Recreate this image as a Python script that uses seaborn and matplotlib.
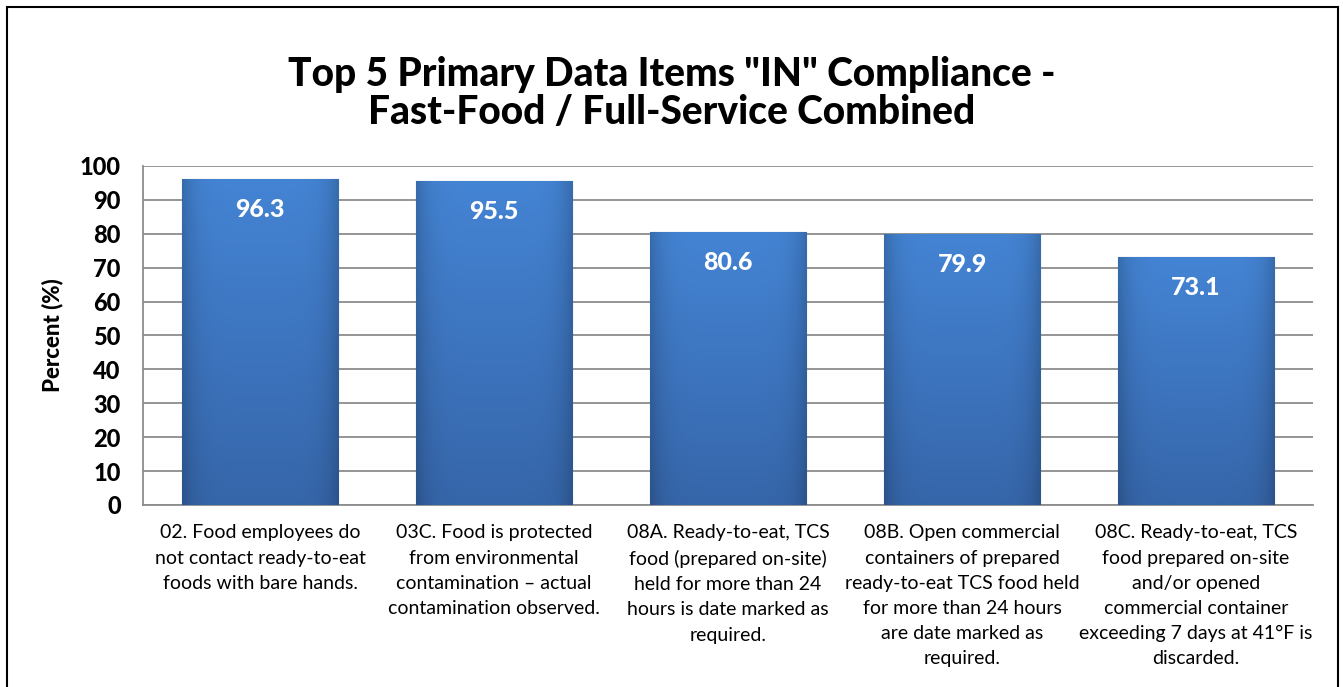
import numpy as np
import pandas as pd
import matplotlib
matplotlib.use('Agg')
import matplotlib.pyplot as plt
import seaborn as sns
from matplotlib.patches import Rectangle

# Dados
items = [
    '02. Food employees do\nnot contact ready-to-eat\nfoods with bare hands.',
    '03C. Food is protected\nfrom environmental\ncontamination \u2013 actual\ncontamination observed.',
    '08A. Ready-to-eat, TCS\nfood (prepared on-site)\nheld for more than 24\nhours is date marked as\nrequired.',
    '08B. Open commercial\ncontainers of prepared\nready-to-eat TCS food held\nfor more than 24 hours\nare date marked as\nrequired.',
    '08C. Ready-to-eat, TCS\nfood prepared on-site\nand/or opened\ncommercial container\nexceeding 7 days at 41\u00b0F is\ndiscarded.',
]
percent = [96.3, 95.5, 80.6, 79.9, 73.1]
yticks = list(range(0, 101, 10))

df = pd.DataFrame({'item': items, 'percent': percent})

sns.set_style('white')
plt.rcParams['font.family'] = ['Lato', 'DejaVu Sans']
plt.rcParams['text.color'] = 'black'
plt.rcParams['axes.labelcolor'] = 'black'
plt.rcParams['xtick.labelcolor'] = 'black'
plt.rcParams['ytick.labelcolor'] = 'black'

fig = plt.figure(figsize=(13.43, 6.87), dpi=100)
ax = fig.add_axes([0.1065, 0.265, 0.8712, 0.4934])

sns.barplot(data=df, x='item', y='percent', color='#3d76c2', width=0.67,
            saturation=1, ax=ax, zorder=2)

# Gradiente nas barras
grad_v = np.linspace(0, 1, 100)[:, None]
grad_h = np.abs(np.linspace(-1, 1, 60))[None, :]
top = np.array([0x44, 0x84, 0xd4]) / 255
bot = np.array([0x36, 0x66, 0xaa]) / 255
img = top * (1 - grad_v[..., None]) + bot * grad_v[..., None]
shade = 1 - 0.18 * grad_h[..., None] ** 6
img = np.clip(img * shade, 0, 1)
for p in ax.patches:
    x0, y0 = p.get_x(), p.get_y()
    w, h = p.get_width(), p.get_height()
    im = ax.imshow(img, extent=[x0, x0 + w, y0, y0 + h], aspect='auto',
                   origin='upper', zorder=3)
    im.set_clip_path(p)
    p.set_edgecolor('#2c5a99')
    p.set_linewidth(0.8)

# Rótulos de valor
for i, v in enumerate(percent):
    ax.text(i, v - 9, f'{v:.1f}', ha='center', va='center', color='white',
            fontsize=18, fontweight='black', zorder=5)

ax.set_xlim(-0.5, 4.5)
ax.set_ylim(0, 100)
ax.set_yticks(yticks)
ax.set_yticklabels([str(t) for t in yticks], fontsize=17, fontweight='black')
ax.yaxis.grid(True, color='#8c8c8c', linewidth=1.3, zorder=0)
ax.set_axisbelow(True)

ax.set_xticks(range(len(items)))
ax.set_xticklabels(items, fontsize=14, linespacing=1.58)
ax.set_xticks(np.arange(-0.5, 5, 1), minor=True)
ax.tick_params(axis='x', which='major', length=0, pad=14)
ax.tick_params(axis='x', which='minor', length=7, color='#8c8c8c', width=1.3)
ax.tick_params(axis='y', length=6, color='#8c8c8c', width=1.3, pad=10)

for s in ['top', 'right']:
    ax.spines[s].set_visible(False)
for s in ['left', 'bottom']:
    ax.spines[s].set_color('#8c8c8c')
    ax.spines[s].set_linewidth(1.3)

ax.set_xlabel('')
ax.set_ylabel('Percent (%)', fontsize=16, fontweight='black', labelpad=12)

fig.text(0.5, 0.864, 'Top 5 Primary Data Items "IN" Compliance -\nFast-Food / Full-Service Combined',
         ha='center', va='center', fontsize=28, fontweight='black', linespacing=1.02)

# Borda
fig.patches.append(Rectangle((0.005, -0.01), 0.991, 1.0, transform=fig.transFigure,
                             fill=False, edgecolor='black', linewidth=1.5))

plt.savefig('out.png', dpi=100)
